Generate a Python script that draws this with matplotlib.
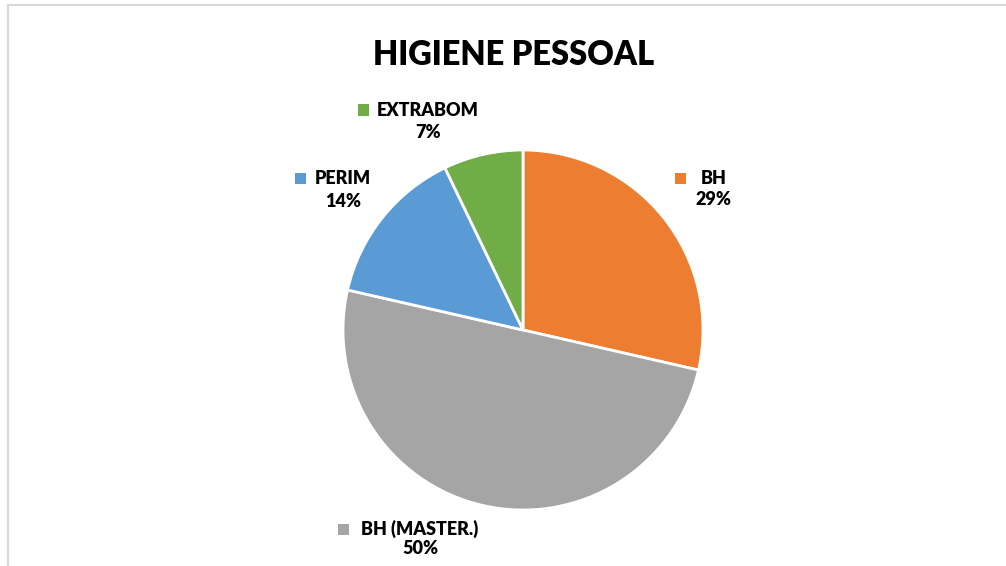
import matplotlib
matplotlib.use('Agg')
import matplotlib.pyplot as plt
from matplotlib.patches import Rectangle
from matplotlib.lines import Line2D

# data
categories = ['BH', 'BH (MASTER.)', 'PERIM', 'EXTRABOM']
counts = [4, 7, 2, 1]
colors = ['#ED7D31', '#A5A5A5', '#5B9BD5', '#70AD47']

W, H = 1006, 566
fig = plt.figure(figsize=(W / 100, H / 100), dpi=100)
plt.rcParams['font.family'] = ['Lato', 'DejaVu Sans']


def fx(px):
    return px / W


def fy(py):
    return 1 - py / H


# pie: centre (523, 330), radius 180 px
cx, cy, r = 523, 330, 180
ax = fig.add_axes([fx(cx - r), fy(cy + r), 2 * r / W, 2 * r / H])
wedges, _ = ax.pie(counts, colors=colors, startangle=90, counterclock=False,
                   wedgeprops=dict(edgecolor='white', linewidth=2))
ax.set_xlim(-1, 1)
ax.set_ylim(-1, 1)
ax.set_aspect('equal')

# title
fig.text(fx(514), fy(55), 'HIGIENE PESSOAL', ha='center', va='center',
         fontsize=23.5, fontweight='heavy', color='black')

# data labels (legend key + name + percentage)
total = sum(counts)
label_pos = {
    'BH': (714, 178, 199, 680),
    'BH (MASTER.)': (420, 529, 549, 343),
    'PERIM': (343, 178, 201, 300),
    'EXTRABOM': (428, 110, 132, 363),
}
for name, val, col in zip(categories, counts, colors):
    tx, y1, y2, sx = label_pos[name]
    pct = '{:.0f}%'.format(100 * val / total)
    fig.text(fx(tx), fy(y1), name, ha='center', va='center',
             fontsize=13, fontweight='heavy', color='#000000')
    fig.text(fx(tx), fy(y2), pct, ha='center', va='center',
             fontsize=13, fontweight='heavy', color='#000000')
    fig.add_artist(Rectangle((fx(sx - 5.5), fy(y1 + 5.5)), 11 / W, 11 / H,
                             transform=fig.transFigure, color=col, lw=0))

# chart area border (left and top)
fig.add_artist(Line2D([fx(7.5), fx(7.5)], [fy(4.5), 0], transform=fig.transFigure,
                      color='#D9D9D9', lw=1.5))
fig.add_artist(Line2D([fx(7.5), 1], [fy(4.5), fy(4.5)], transform=fig.transFigure,
                      color='#D9D9D9', lw=1.5))

fig.savefig('out.png', dpi=100)
